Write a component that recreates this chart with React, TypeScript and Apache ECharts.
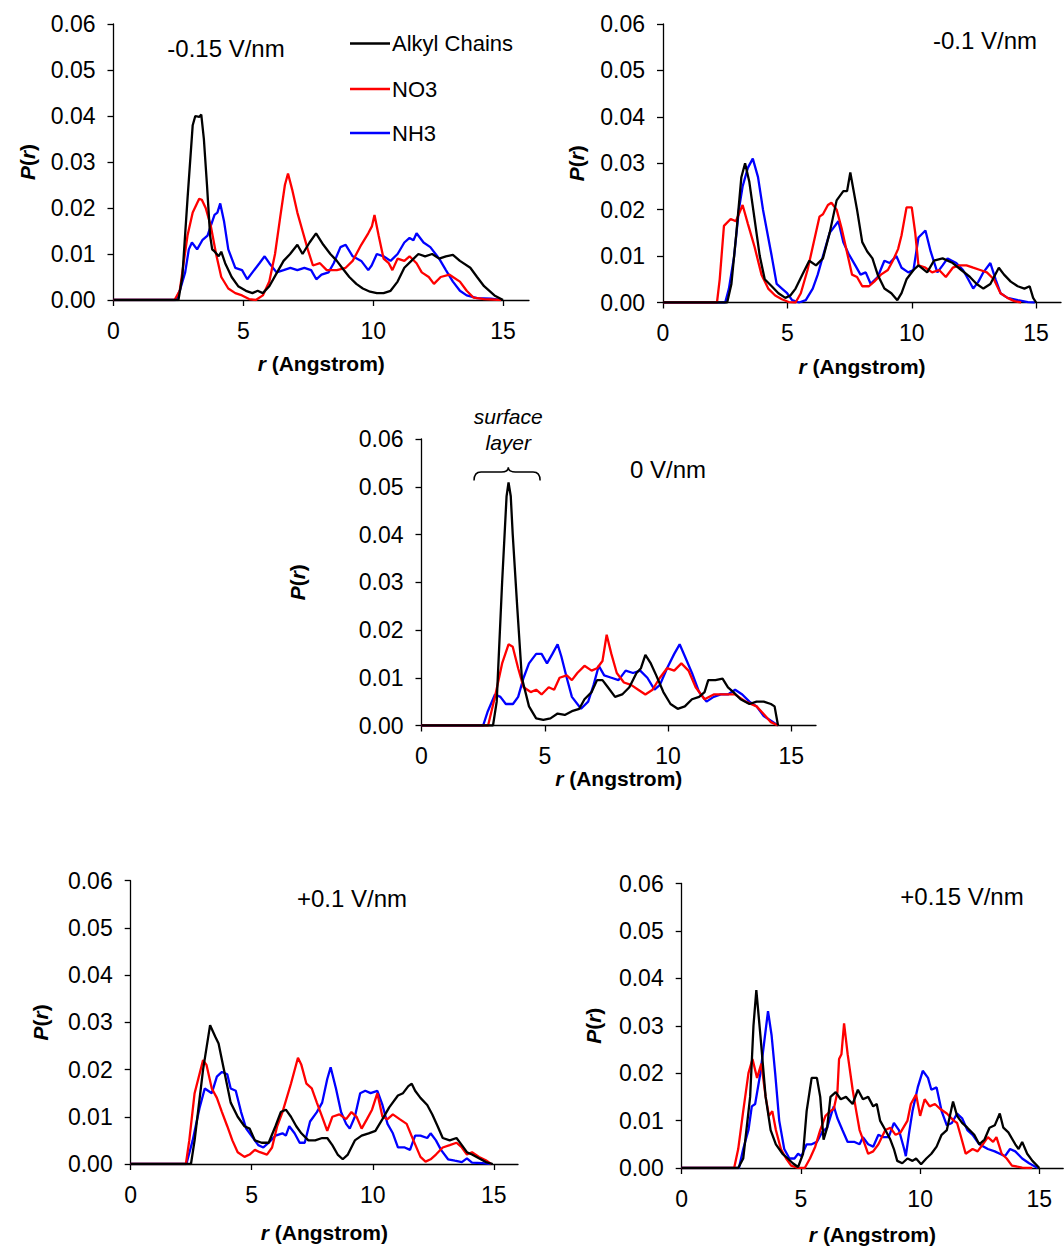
import React, { useEffect, useRef } from "react";
import * as echarts from "echarts";

// ---------- data ----------
const xTickValues = [0, 5, 10, 15];
const seriesNames = ["Alkyl Chains", "NO3", "NH3"];
const seriesColors = ["#000000", "#ff0000", "#0000ff"];
const panelTitles = ["-0.15 V/nm", "-0.1 V/nm", "0 V/nm", "+0.1 V/nm", "+0.15 V/nm"];

// -0.15 V/nm
const alkylM015 = [[0,0],[2.5,0],[2.65,0.005],[2.85,0.022],[3.05,0.038],[3.15,0.04],[3.3,0.0398],[3.38,0.0403],[3.48,0.035],[3.6,0.025],[3.72,0.014],[3.8,0.011],[3.9,0.0105],[4.05,0.0095],[4.15,0.0105],[4.3,0.008],[4.55,0.005],[4.8,0.003],[5.1,0.002],[5.35,0.0015],[5.55,0.002],[5.75,0.0015],[6.0,0.003],[6.3,0.006],[6.55,0.0085],[6.8,0.01],[7.08,0.012],[7.28,0.01],[7.55,0.0125],[7.8,0.0145],[8.08,0.012],[8.35,0.01],[8.6,0.0085],[8.8,0.007],[9.08,0.005],[9.35,0.0035],[9.6,0.0025],[9.88,0.0018],[10.14,0.0015],[10.4,0.0015],[10.67,0.002],[10.94,0.004],[11.2,0.007],[11.47,0.0085],[11.74,0.01],[12.0,0.0095],[12.27,0.01],[12.54,0.009],[12.8,0.0095],[13.07,0.0098],[13.34,0.0085],[13.74,0.007],[14.0,0.005],[14.27,0.003],[14.67,0.001],[15.0,0]];
const no3M015 = [[0,0],[2.35,0],[2.55,0.002],[2.7,0.008],[2.85,0.014],[3.05,0.019],[3.3,0.022],[3.4,0.0218],[3.55,0.02],[3.75,0.016],[3.95,0.01],[4.15,0.005],[4.42,0.0025],[4.69,0.0015],[4.95,0.001],[5.22,0.0002],[5.48,0],[5.75,0.001],[6.0,0.004],[6.22,0.01],[6.42,0.018],[6.6,0.025],[6.72,0.0275],[6.88,0.024],[7.08,0.019],[7.28,0.015],[7.48,0.011],[7.68,0.0075],[7.95,0.008],[8.21,0.0065],[8.6,0.0065],[8.94,0.007],[9.21,0.0085],[9.54,0.012],[9.81,0.0145],[9.95,0.016],[10.05,0.0185],[10.21,0.014],[10.4,0.009],[10.6,0.008],[10.74,0.0065],[10.94,0.009],[11.2,0.0085],[11.4,0.0095],[11.67,0.008],[11.87,0.006],[12.14,0.005],[12.34,0.0035],[12.6,0.005],[12.94,0.0055],[13.34,0.004],[13.6,0.002],[13.87,0.0005],[14.27,0.0002],[14.93,0]];
const nh3M015 = [[0,0],[2.4,0],[2.55,0.002],[2.76,0.006],[2.9,0.011],[3.02,0.0125],[3.22,0.011],[3.42,0.013],[3.62,0.014],[3.89,0.0185],[4.0,0.019],[4.11,0.021],[4.26,0.017],[4.42,0.011],[4.69,0.007],[4.95,0.0065],[5.15,0.0045],[5.35,0.006],[5.62,0.008],[5.82,0.0095],[6.0,0.008],[6.28,0.006],[6.55,0.0065],[6.81,0.007],[7.08,0.0065],[7.35,0.007],[7.61,0.0065],[7.81,0.0045],[8.01,0.0055],[8.28,0.006],[8.48,0.008],[8.74,0.0115],[8.94,0.012],[9.21,0.0095],[9.54,0.0085],[9.81,0.0065],[9.94,0.0075],[10.14,0.01],[10.4,0.0095],[10.67,0.0085],[10.94,0.01],[11.2,0.0125],[11.4,0.0135],[11.55,0.013],[11.67,0.0145],[11.94,0.0125],[12.2,0.0115],[12.54,0.009],[12.8,0.0065],[13.07,0.004],[13.34,0.002],[13.6,0.001],[14.0,0.0004],[14.53,0.0003],[14.93,0]];

// -0.1 V/nm
const alkylM01 = [[0,0],[2.58,0],[2.75,0.004],[2.95,0.015],[3.15,0.027],[3.3,0.03],[3.47,0.026],[3.68,0.018],[3.89,0.01],[4.09,0.005],[4.37,0.0035],[4.64,0.002],[4.92,0.001],[5.12,0.0015],[5.33,0.003],[5.6,0.006],[5.88,0.009],[6.15,0.008],[6.43,0.0095],[6.7,0.015],[6.98,0.022],[7.25,0.024],[7.4,0.024],[7.53,0.028],[7.8,0.02],[8.01,0.013],[8.21,0.011],[8.42,0.0095],[8.63,0.006],[8.9,0.003],[9.18,0.002],[9.42,0.0005],[9.59,0.002],[9.79,0.005],[10.07,0.007],[10.27,0.008],[10.62,0.0065],[10.89,0.009],[11.24,0.0095],[11.65,0.0085],[11.99,0.007],[12.34,0.0055],[12.61,0.004],[12.88,0.003],[13.16,0.004],[13.5,0.0075],[13.71,0.006],[13.98,0.0045],[14.26,0.0035],[14.53,0.003],[14.74,0.0035],[14.88,0.001],[15.0,0]];
const no3M01 = [[0,0],[2.17,0],[2.28,0.005],[2.45,0.0165],[2.72,0.018],[2.93,0.0175],[3.2,0.021],[3.41,0.017],[3.68,0.012],[3.96,0.006],[4.23,0.003],[4.51,0.0015],[4.78,0.0007],[5.05,0.0001],[5.33,0],[5.54,0.002],[5.81,0.007],[6.02,0.012],[6.29,0.0185],[6.43,0.019],[6.63,0.021],[6.77,0.0215],[6.98,0.02],[7.18,0.016],[7.39,0.011],[7.6,0.006],[7.8,0.0055],[8.01,0.0035],[8.28,0.0035],[8.49,0.0045],[8.76,0.006],[9.04,0.007],[9.24,0.009],[9.45,0.0115],[9.59,0.0145],[9.79,0.0205],[10.0,0.0205],[10.14,0.015],[10.27,0.008],[10.55,0.0075],[10.82,0.0065],[11.1,0.007],[11.37,0.0055],[11.65,0.0075],[11.92,0.008],[12.2,0.008],[12.47,0.0075],[12.75,0.007],[13.02,0.0065],[13.3,0.005],[13.57,0.002],[13.85,0.001],[14.12,0.0003],[14.4,0]];
const nh3M01 = [[0,0],[2.5,0],[2.65,0.003],[2.86,0.01],[3.05,0.02],[3.2,0.025],[3.41,0.029],[3.61,0.031],[3.82,0.027],[4.02,0.02],[4.16,0.016],[4.37,0.01],[4.57,0.004],[4.78,0.003],[4.99,0.002],[5.19,0.0005],[5.47,0],[5.74,0.0005],[6.02,0.003],[6.22,0.006],[6.43,0.01],[6.7,0.015],[7.05,0.0175],[7.25,0.013],[7.46,0.0105],[7.73,0.008],[7.94,0.006],[8.15,0.0065],[8.35,0.004],[8.63,0.0055],[8.9,0.009],[9.11,0.0085],[9.38,0.01],[9.59,0.0075],[9.86,0.0065],[10.07,0.007],[10.27,0.014],[10.55,0.0155],[10.76,0.011],[11.03,0.0065],[11.24,0.008],[11.44,0.0095],[11.79,0.0085],[12.06,0.007],[12.27,0.005],[12.47,0.003],[12.68,0.0045],[12.88,0.0065],[13.16,0.0085],[13.37,0.005],[13.57,0.002],[13.85,0.001],[14.26,0.0005],[14.67,0.0001],[14.95,0]];

// 0 V/nm
const alkylZero = [[0,0],[2.9,0],[3.05,0.005],[3.27,0.03],[3.45,0.048],[3.53,0.0509],[3.62,0.048],[3.7,0.04],[3.88,0.025],[4.07,0.01],[4.36,0.004],[4.65,0.0015],[4.94,0.0012],[5.23,0.0015],[5.52,0.0025],[5.81,0.0022],[6.1,0.003],[6.4,0.0035],[6.61,0.0055],[6.9,0.007],[7.12,0.0095],[7.34,0.0095],[7.56,0.008],[7.85,0.006],[8.14,0.0065],[8.43,0.008],[8.72,0.011],[8.9,0.012],[9.08,0.0148],[9.3,0.013],[9.52,0.0105],[9.81,0.007],[10.1,0.0045],[10.39,0.0035],[10.68,0.004],[10.97,0.0055],[11.26,0.006],[11.48,0.007],[11.63,0.0095],[11.92,0.0095],[12.21,0.0098],[12.43,0.008],[12.65,0.007],[12.94,0.0055],[13.3,0.0045],[13.59,0.005],[13.88,0.005],[14.17,0.0045],[14.32,0.004],[14.46,0]];
const no3Zero = [[0,0],[2.7,0],[2.98,0.006],[3.27,0.013],[3.53,0.017],[3.7,0.0165],[3.92,0.012],[4.14,0.008],[4.43,0.007],[4.65,0.0075],[4.87,0.0065],[5.16,0.008],[5.38,0.0075],[5.6,0.01],[5.89,0.0105],[6.1,0.0095],[6.32,0.011],[6.61,0.0125],[6.9,0.0115],[7.12,0.012],[7.34,0.0135],[7.51,0.019],[7.7,0.015],[7.92,0.011],[8.21,0.009],[8.5,0.0085],[8.79,0.0075],[9.08,0.0065],[9.37,0.0075],[9.67,0.01],[9.96,0.012],[10.25,0.0115],[10.54,0.013],[10.83,0.0115],[11.12,0.008],[11.48,0.0055],[11.85,0.0065],[12.28,0.0065],[12.72,0.0065],[13.15,0.005],[13.59,0.004],[13.95,0.002],[14.17,0.0007],[14.46,0]];
const nh3Zero = [[0,0],[2.5,0],[2.69,0.003],[2.98,0.0065],[3.2,0.006],[3.42,0.0045],[3.71,0.0045],[3.92,0.006],[4.14,0.01],[4.36,0.013],[4.65,0.015],[4.87,0.015],[5.09,0.013],[5.31,0.015],[5.52,0.017],[5.67,0.0145],[5.89,0.01],[6.1,0.006],[6.47,0.0035],[6.76,0.005],[6.98,0.0085],[7.19,0.0125],[7.41,0.0105],[7.7,0.01],[7.99,0.0095],[8.28,0.0115],[8.58,0.011],[8.87,0.0115],[9.16,0.01],[9.45,0.0075],[9.67,0.0085],[9.96,0.012],[10.25,0.015],[10.47,0.017],[10.68,0.0145],[10.97,0.011],[11.26,0.007],[11.56,0.005],[11.85,0.006],[12.14,0.0065],[12.43,0.0065],[12.72,0.0075],[13.01,0.0065],[13.3,0.005],[13.59,0.004],[13.88,0.002],[14.17,0.001],[14.46,0]];

// +0.1 V/nm
const alkylP01 = [[0,0],[2.49,0],[2.64,0.005],[2.99,0.02],[3.28,0.0294],[3.49,0.027],[3.63,0.0255],[3.85,0.02],[4.13,0.013],[4.42,0.01],[4.7,0.008],[4.91,0.0075],[5.13,0.005],[5.41,0.0045],[5.7,0.0045],[5.98,0.008],[6.2,0.011],[6.41,0.0115],[6.62,0.01],[6.84,0.008],[7.05,0.0065],[7.34,0.005],[7.62,0.005],[7.91,0.0055],[8.12,0.0055],[8.33,0.004],[8.55,0.002],[8.76,0.001],[8.97,0.002],[9.26,0.005],[9.54,0.006],[9.83,0.0065],[10.11,0.007],[10.4,0.0095],[10.68,0.012],[11.04,0.0145],[11.25,0.015],[11.47,0.0165],[11.61,0.017],[11.75,0.0155],[11.97,0.014],[12.25,0.0125],[12.46,0.0105],[12.68,0.008],[12.89,0.0055],[13.18,0.005],[13.46,0.0055],[13.68,0.004],[13.89,0.0025],[14.1,0.002],[14.46,0.001],[14.67,0.0004],[14.96,0]];
const no3P01 = [[0,0],[2.28,0],[2.42,0.005],[2.64,0.015],[2.99,0.022],[3.13,0.021],[3.35,0.016],[3.56,0.014],[3.77,0.011],[3.99,0.008],[4.2,0.005],[4.42,0.0025],[4.7,0.0015],[4.91,0.002],[5.13,0.003],[5.34,0.0025],[5.63,0.002],[5.84,0.0035],[6.05,0.008],[6.27,0.011],[6.62,0.017],[6.91,0.0225],[7.05,0.021],[7.26,0.017],[7.48,0.016],[7.69,0.013],[7.91,0.01],[8.12,0.007],[8.33,0.01],[8.62,0.0105],[8.9,0.0095],[9.12,0.011],[9.33,0.01],[9.54,0.0075],[9.76,0.0095],[9.97,0.0115],[10.19,0.015],[10.4,0.01],[10.61,0.0095],[10.83,0.0105],[11.11,0.0095],[11.4,0.0085],[11.68,0.005],[11.97,0.0015],[12.18,0.0005],[12.39,0.001],[12.61,0.002],[12.89,0.0035],[13.18,0.004],[13.46,0.0045],[13.68,0.0035],[13.89,0.002],[14.1,0.0025],[14.39,0.0015],[14.67,0.0008],[14.89,0]];
const nh3P01 = [[0,0],[2.3,0],[2.56,0.005],[2.85,0.012],[3.06,0.016],[3.35,0.015],[3.56,0.0185],[3.77,0.0195],[3.99,0.019],[4.13,0.016],[4.34,0.0155],[4.56,0.011],[4.77,0.0075],[5.06,0.0055],[5.27,0.004],[5.48,0.0035],[5.7,0.0045],[5.98,0.006],[6.27,0.0065],[6.41,0.006],[6.55,0.008],[6.77,0.0065],[6.98,0.0045],[7.19,0.0045],[7.41,0.009],[7.69,0.011],[7.91,0.013],[8.12,0.018],[8.26,0.0205],[8.48,0.016],[8.69,0.011],[8.9,0.0085],[9.05,0.0075],[9.26,0.01],[9.48,0.015],[9.69,0.0155],[9.91,0.015],[10.19,0.0155],[10.4,0.0125],[10.61,0.0085],[10.83,0.0065],[11.04,0.0035],[11.32,0.0035],[11.54,0.003],[11.75,0.006],[11.97,0.006],[12.25,0.0055],[12.39,0.0065],[12.61,0.005],[12.82,0.003],[13.11,0.001],[13.39,0.0007],[13.68,0.0004],[13.89,0.0012],[14.1,0.0003],[14.53,0.0002],[14.89,0]];

// +0.15 V/nm
const alkylP015 = [[0,0],[2.37,0],[2.58,0.002],[2.87,0.015],[3.01,0.03],[3.13,0.0375],[3.3,0.028],[3.52,0.015],[3.73,0.008],[3.95,0.005],[4.23,0.003],[4.45,0.002],[4.66,0.001],[4.88,0.0002],[5.09,0.003],[5.24,0.012],[5.45,0.019],[5.67,0.019],[5.81,0.015],[5.95,0.006],[6.1,0.0085],[6.24,0.015],[6.46,0.016],[6.67,0.0145],[6.89,0.015],[7.17,0.0135],[7.39,0.0165],[7.6,0.0145],[7.82,0.015],[8.03,0.013],[8.18,0.0135],[8.32,0.01],[8.54,0.008],[8.75,0.006],[8.9,0.004],[9.04,0.0015],[9.25,0.001],[9.47,0.002],[9.68,0.0015],[9.83,0.002],[10.04,0.0008],[10.26,0.002],[10.47,0.003],[10.69,0.0045],[10.9,0.007],[11.12,0.008],[11.38,0.014],[11.55,0.011],[11.76,0.0095],[11.98,0.0085],[12.27,0.007],[12.48,0.005],[12.7,0.006],[12.91,0.0085],[13.13,0.009],[13.34,0.0115],[13.49,0.0085],[13.7,0.0075],[13.99,0.005],[14.13,0.004],[14.28,0.0055],[14.49,0.003],[14.71,0.0015],[15.0,0]];
const no3P015 = [[0,0],[2.2,0],[2.37,0.004],[2.58,0.012],[2.8,0.02],[2.97,0.023],[3.16,0.019],[3.34,0.022],[3.52,0.015],[3.66,0.011],[3.8,0.012],[3.95,0.008],[4.16,0.004],[4.38,0.002],[4.59,0.0005],[4.88,0],[5.16,0],[5.38,0.002],[5.6,0.0045],[5.81,0.008],[6.03,0.011],[6.24,0.012],[6.38,0.0125],[6.53,0.016],[6.6,0.023],[6.7,0.024],[6.81,0.0305],[6.96,0.024],[7.17,0.0165],[7.32,0.012],[7.46,0.008],[7.68,0.005],[7.82,0.003],[8.03,0.0035],[8.25,0.005],[8.54,0.008],[8.75,0.0085],[8.97,0.007],[9.18,0.0075],[9.47,0.01],[9.61,0.0135],[9.83,0.0155],[10.0,0.011],[10.19,0.0145],[10.4,0.013],[10.62,0.0135],[10.83,0.0125],[11.12,0.0115],[11.41,0.01],[11.55,0.0095],[11.69,0.007],[11.91,0.003],[12.2,0.004],[12.41,0.0035],[12.63,0.005],[12.84,0.0065],[13.06,0.0055],[13.2,0.0065],[13.42,0.003],[13.63,0.002],[13.85,0.0005],[14.28,0.0001],[14.7,0]];
const nh3P015 = [[0,0],[2.4,0],[2.58,0.004],[2.8,0.008],[2.94,0.013],[3.08,0.0135],[3.3,0.02],[3.62,0.0331],[3.77,0.028],[3.92,0.02],[4.09,0.01],[4.3,0.004],[4.52,0.002],[4.73,0.002],[4.88,0.003],[5.02,0.0025],[5.24,0.005],[5.45,0.005],[5.67,0.0055],[5.88,0.0075],[6.1,0.0085],[6.31,0.012],[6.38,0.013],[6.53,0.0105],[6.74,0.008],[6.96,0.0055],[7.25,0.0055],[7.46,0.005],[7.6,0.0065],[7.82,0.005],[8.03,0.0045],[8.25,0.007],[8.46,0.0065],[8.68,0.0065],[8.9,0.0095],[9.11,0.008],[9.33,0.004],[9.4,0.0025],[9.54,0.0075],[9.68,0.012],[9.9,0.017],[10.11,0.0205],[10.33,0.019],[10.47,0.0165],[10.69,0.017],[10.9,0.012],[11.12,0.009],[11.33,0.0095],[11.55,0.0115],[11.76,0.0105],[11.98,0.008],[12.2,0.007],[12.48,0.005],[12.84,0.004],[13.13,0.0035],[13.34,0.003],[13.56,0.0025],[13.77,0.004],[13.99,0.0035],[14.28,0.002],[14.57,0.001],[14.93,0]];

// "surface layer" brace on the 0 V/nm panel: [left end, tip, right end]
const braceR = [2.13, 3.52, 4.81];
const braceP = [0.0513, 0.0531, 0.0541]; // ends, bar, tip
const braceLabelLines = ["surface", "layer"];
const braceLabelP = [0.0648, 0.0593];

const panelSeries = [
  [alkylM015, no3M015, nh3M015],
  [alkylM01, no3M01, nh3M01],
  [alkylZero, no3Zero, nh3Zero],
  [alkylP01, no3P01, nh3P01],
  [alkylP015, no3P015, nh3P015],
];

// ---------- layout ----------
const FONT = "Arial, 'Liberation Sans', sans-serif";
const layouts = [
  { left: 113.5, top: 24, width: 415.5, height: 276, yGap: 76, xGap: 53, title: [226, 48] },
  { left: 663, top: 24, width: 398, height: 278.5, yGap: 76, xGap: 53, title: [985, 40] },
  { left: 421.5, top: 439, width: 394.5, height: 286.5, yGap: 114, xGap: 39, title: [668, 469] },
  { left: 130.7, top: 880.7, width: 387.3, height: 283.3, yGap: 80, xGap: 58, title: [352, 898] },
  { left: 681.7, top: 883.5, width: 381.5, height: 284.5, yGap: 78, xGap: 56, title: [962, 896] },
];

const nameRich = {
  i: { fontStyle: "italic", fontWeight: "bold", fontSize: 21, fontFamily: FONT, color: "#000" },
  b: { fontWeight: "bold", fontSize: 21, fontFamily: FONT, color: "#000" },
};

export default function App() {
  const ref = useRef<HTMLDivElement>(null);

  useEffect(() => {
    document.body.style.margin = "0";
    if (!ref.current) return;
    const chart = echarts.init(ref.current, null, { renderer: "svg" });

    const axisLineStyle = { color: "#000", width: 1.3 };

    const grid = layouts.map((l) => ({ left: l.left, top: l.top, width: l.width, height: l.height }));

    const xAxis = layouts.map((l, i) => ({
      type: "value",
      gridIndex: i,
      min: 0,
      max: 16,
      interval: 5,
      axisLine: { show: true, onZero: false, lineStyle: axisLineStyle },
      axisTick: { show: true, inside: false, length: 6, customValues: xTickValues, lineStyle: axisLineStyle },
      axisLabel: { customValues: xTickValues, fontSize: 23, fontFamily: FONT, color: "#000", margin: 19 },
      splitLine: { show: false },
      name: "{i|r}{b| (Angstrom)}",
      nameLocation: "middle",
      nameGap: l.xGap,
      nameTextStyle: { rich: nameRich },
    }));

    const yAxis = layouts.map((l, i) => ({
      type: "value",
      gridIndex: i,
      min: 0,
      max: 0.06,
      interval: 0.01,
      axisLine: { show: true, onZero: false, lineStyle: axisLineStyle },
      axisTick: { show: true, inside: false, length: 6, lineStyle: axisLineStyle },
      axisLabel: {
        fontSize: 23,
        fontFamily: FONT,
        color: "#000",
        margin: 18,
        formatter: (v: number) => v.toFixed(2),
      },
      splitLine: { show: false },
      name: "{i|P}{b|(}{i|r}{b|)}",
      nameLocation: "middle",
      nameGap: l.yGap,
      nameTextStyle: { rich: nameRich },
    }));

    const series: any[] = [];
    panelSeries.forEach((group, i) => {
      group.forEach((data, k) => {
        series.push({
          type: "line",
          name: seriesNames[k],
          xAxisIndex: i,
          yAxisIndex: i,
          data,
          symbol: "none",
          showSymbol: false,
          z: 5 - k,
          lineStyle: { color: seriesColors[k], width: 2.3 },
          itemStyle: { color: seriesColors[k] },
        });
      });
    });

    // brace + "surface layer" label on the 0 V/nm panel
    series.push({
      type: "custom",
      xAxisIndex: 2,
      yAxisIndex: 2,
      clip: false,
      silent: true,
      data: [[braceR[0], braceR[1], braceR[2], braceP[0], braceP[1], braceP[2]]],
      encode: { x: [0, 1, 2], y: [3, 4, 5] },
      renderItem: (params: any, api: any) => {
        const L = api.coord([braceR[0], braceP[0]]);
        const Lb = api.coord([braceR[0], braceP[1]]);
        const T = api.coord([braceR[1], braceP[2]]);
        const R = api.coord([braceR[2], braceP[0]]);
        const yb = Lb[1];
        const r = 7;
        const d =
          `M${L[0]},${L[1]} Q${L[0]},${yb} ${L[0] + r},${yb} ` +
          `L${T[0] - r},${yb} Q${T[0]},${yb} ${T[0]},${T[1]} ` +
          `Q${T[0]},${yb} ${T[0] + r},${yb} ` +
          `L${R[0] - r},${yb} Q${R[0]},${yb} ${R[0]},${R[1]}`;
        const t1 = api.coord([braceR[1], braceLabelP[0]]);
        const t2 = api.coord([braceR[1], braceLabelP[1]]);
        return {
          type: "group",
          children: [
            { type: "path", shape: { pathData: d }, style: { stroke: "#000", fill: "none", lineWidth: 1.5 } },
            {
              type: "text",
              style: { text: braceLabelLines[0], x: t1[0], y: t1[1], align: "center", verticalAlign: "middle", fontSize: 21, fontStyle: "italic", fontFamily: FONT, fill: "#000" },
            },
            {
              type: "text",
              style: { text: braceLabelLines[1], x: t2[0], y: t2[1], align: "center", verticalAlign: "middle", fontSize: 21, fontStyle: "italic", fontFamily: FONT, fill: "#000" },
            },
          ],
        };
      },
    });

    const graphic: any[] = [];
    layouts.forEach((l, i) => {
      graphic.push({
        type: "text",
        x: l.title[0],
        y: l.title[1],
        style: { text: panelTitles[i], align: "center", verticalAlign: "middle", fontSize: 24, fontFamily: FONT, fill: "#000" },
      });
    });
    // legend (top-left panel)
    const legendY = [43.5, 89, 133];
    seriesNames.forEach((n, k) => {
      graphic.push({
        type: "line",
        shape: { x1: 350, y1: legendY[k], x2: 390, y2: legendY[k] },
        style: { stroke: seriesColors[k], lineWidth: 2.5 },
      });
      graphic.push({
        type: "text",
        x: 392,
        y: legendY[k],
        style: { text: n, align: "left", verticalAlign: "middle", fontSize: 22, fontFamily: FONT, fill: "#000" },
      });
    });

    chart.setOption({
      animation: false,
      backgroundColor: "#ffffff",
      grid,
      xAxis,
      yAxis,
      series,
      graphic,
    });

    return () => {
      chart.dispose();
    };
  }, []);

  return <div ref={ref} style={{ width: 1064, height: 1258 }} />;
}
